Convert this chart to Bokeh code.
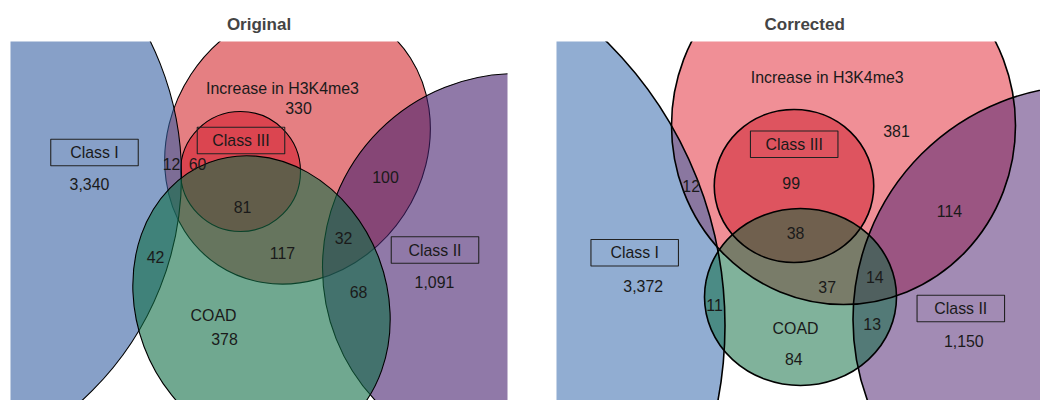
from bokeh.plotting import figure
from bokeh.models import Range1d, ColumnDataSource
from bokeh.layouts import row
from bokeh.core.properties import value
from bokeh.embed import file_html
from bokeh.resources import INLINE

# ---------------- data ----------------
panel_titles = ["Original", "Corrected"]
set_names = ["Class I", "Class II", "Class III", "Increase in H3K4me3", "COAD"]
boxed_sets = ["Class I", "Class II", "Class III"]
regions = ["Class I", "Class II", "Increase in H3K4me3", "COAD",
           "Class III&H3", "Class I&H3", "Class II&H3", "Class III&H3&COAD",
           "H3&COAD", "Class I&COAD", "Class II&H3&COAD", "Class II&COAD"]
original_counts = [3340, 1091, 330, 378, 60, 12, 100, 81, 117, 42, 32, 68]
corrected_counts = [3372, 1150, 381, 84, 99, 12, 114, 38, 37, 11, 14, 13]

# ---------------- layout (pixel positions of the diagram) ----------------
shape_order = ["Increase in H3K4me3", "Class III", "Class I", "Class II", "COAD"]
orig_colors = ["#D42A2F", "#D31E2F", "#3761A3", "#46206E", "#116E46"]
corr_colors = ["#E22835", "#CD1E2C", "#2D61A8", "#4C216F", "#0B6C3F"]

orig_cx = [297, 240, -123, 516, 261]
orig_cy = [144, 171, 175, 267, 302]
orig_w = [289, 120, 608, 388, 299]
orig_h = [255, 120, 608, 388, 251]
orig_ang = [0.99, 0.0, 0.0, 0.0, 1.929]

corr_cx = [843, 793.5, 324.5, 1086.5, 800]
corr_cy = [125, 185.5, 325, 319, 296.5]
corr_w = [344, 159.5, 800, 468, 192]
corr_h = [358, 153, 800, 468, 177]
corr_ang = [0.0, 0.0, 0.0, 0.0, 0.0]

orig_name_x = [94, 434.5, 240.5, 282, 213]
orig_name_y = [152, 249.5, 140, 88, 315]
orig_count_x = [89, 434, 298, 224, 197, 171, 385, 242, 282, 155, 343, 358]
orig_count_y = [183, 281, 107, 338, 163, 163, 176, 206, 252, 256, 237, 291]

corr_name_x = [634.2, 960.3, 793.7, 826.7, 795]
corr_name_y = [252.3, 308, 143.7, 77.3, 328.3]
corr_count_x = [642.7, 963.3, 896, 793.3, 790.7, 690.7, 949, 795, 826.7, 714, 874.3, 871.7]
corr_count_y = [285, 340, 130.7, 358.3, 182.7, 185, 210.7, 232.3, 286.7, 304.3, 276.7, 323.3]

FONT = "Liberation Sans"


def make_panel(title, cx, cy, w, h, ang, colors, counts, name_x, name_y, count_x, count_y,
               x0, x1, width, b_left, b_right, alpha, lines_on_top, lw, t_align, t_offset):
    p = figure(width=width, height=400, output_backend="svg", toolbar_location=None,
               x_axis_type=None, y_axis_type=None,
               x_range=Range1d(x0, x1), y_range=Range1d(-400, -41),
               min_border_left=b_left, min_border_right=b_right,
               min_border_top=41, min_border_bottom=0)
    p.grid.visible = False
    p.outline_line_color = None
    p.title.text = title
    p.title.align = t_align
    p.title.offset = t_offset
    p.title.standoff = 15
    p.title.text_font = FONT
    p.title.text_font_style = "bold"
    p.title.text_font_size = "17px"

    src = ColumnDataSource(dict(x=cx, y=[-v for v in cy], w=w, h=h, a=ang,
                                c=colors, name=shape_order))
    if lines_on_top:
        p.ellipse(x="x", y="y", width="w", height="h", angle="a", source=src,
                  fill_color="c", fill_alpha=alpha, line_color=None)
        p.ellipse(x="x", y="y", width="w", height="h", angle="a", source=src,
                  fill_color=None, line_color="black", line_width=lw)
    else:
        p.ellipse(x="x", y="y", width="w", height="h", angle="a", source=src,
                  fill_color="c", fill_alpha=alpha, line_color="black", line_width=lw)

    bx = [name_x[set_names.index(s)] for s in boxed_sets]
    by = [-name_y[set_names.index(s)] for s in boxed_sets]
    p.rect(x=bx, y=by, width=87.5, height=26.5, fill_color=None,
           line_color="#222222", line_width=1.1)

    p.text(x=name_x, y=[-v for v in name_y], text=set_names,
           text_font=value(FONT), text_font_size=value("15.9px"),
           text_align="center", text_baseline="middle", text_color="#1a1a1a")
    p.text(x=count_x, y=[-v for v in count_y], text=[f"{c:,}" for c in counts],
           text_font=value(FONT), text_font_size=value("15.9px"),
           text_align="center", text_baseline="middle", text_color="#1a1a1a")
    return p


p1 = make_panel(panel_titles[0], orig_cx, orig_cy, orig_w, orig_h, orig_ang, orig_colors,
                original_counts, orig_name_x, orig_name_y, orig_count_x, orig_count_y,
                10, 507, 530, 10, 23, 0.6, False, 1.1, "center", 0)
p2 = make_panel(panel_titles[1], corr_cx, corr_cy, corr_w, corr_h, corr_ang, corr_colors,
                corrected_counts, corr_name_x, corr_name_y, corr_count_x, corr_count_y,
                556, 1040, 510, 26, 0, 0.52, True, 1.6, "left", 208)

layout = row(p1, p2)
open("out.html", "w").write(file_html(layout, INLINE))
